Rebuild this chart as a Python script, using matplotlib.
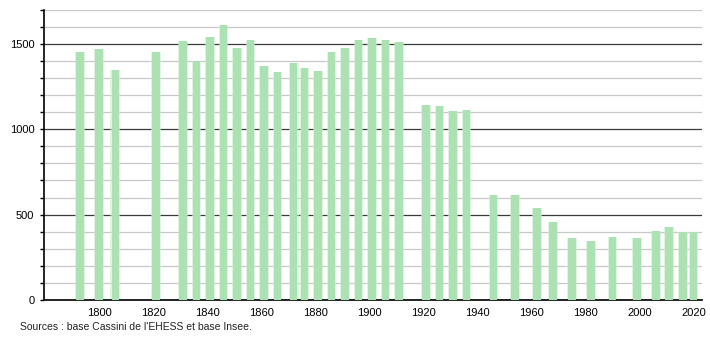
import matplotlib
matplotlib.use("Agg")
import matplotlib.pyplot as plt
from matplotlib.ticker import MultipleLocator

plt.rcParams["font.family"] = ["Liberation Sans", "DejaVu Sans"]

# census years and population
years = [1793, 1800, 1806, 1821, 1831, 1836, 1841, 1846, 1851, 1856,
         1861, 1866, 1872, 1876, 1881, 1886, 1891, 1896, 1901, 1906,
         1911, 1921, 1926, 1931, 1936, 1946, 1954, 1962, 1968, 1975,
         1982, 1990, 1999, 2006, 2011, 2016, 2020]
population = [1455, 1470, 1347, 1455, 1518, 1400, 1541, 1612, 1476, 1523,
              1370, 1335, 1388, 1359, 1341, 1453, 1476, 1523, 1535, 1523,
              1512, 1141, 1135, 1106, 1112, 612, 612, 541, 459, 365,
              347, 371, 365, 406, 429, 400, 400]

x_ticks = list(range(1800, 2021, 20))
source_text = "Sources : base Cassini de l'EHESS et base Insee."

fig = plt.figure(figsize=(7.1, 3.4), dpi=100)
ax = fig.add_axes([0.062, 0.118, 0.927, 0.853])

# soft glow behind the bars, then the bars themselves
ax.bar(years, population, width=3.6, color="#c8efcc", alpha=0.6, zorder=2)
ax.bar(years, population, width=2.8, color="#ace2b3", zorder=3)

ax.set_xlim(1779.6, 2023.2)
ax.set_ylim(0, 1700)

ax.yaxis.set_major_locator(MultipleLocator(500))
ax.yaxis.set_minor_locator(MultipleLocator(100))
ax.grid(which="minor", axis="y", color="#c8c8c8", linewidth=0.9, zorder=0)
ax.grid(which="major", axis="y", color="#3a3a3a", linewidth=0.9, zorder=1)

ax.set_xticks(x_ticks)
ax.tick_params(axis="x", length=0, labelsize=8, pad=6)
ax.tick_params(axis="y", which="both", direction="out", length=3,
               width=1, labelsize=8, pad=4)

for side in ["top", "right"]:
    ax.spines[side].set_visible(False)
ax.spines["left"].set_linewidth(1.2)
ax.spines["bottom"].set_linewidth(1.2)

fig.text(0.028, 0.03, source_text, fontsize=7.5, color="#222222")

fig.savefig("out.png", dpi=100)
